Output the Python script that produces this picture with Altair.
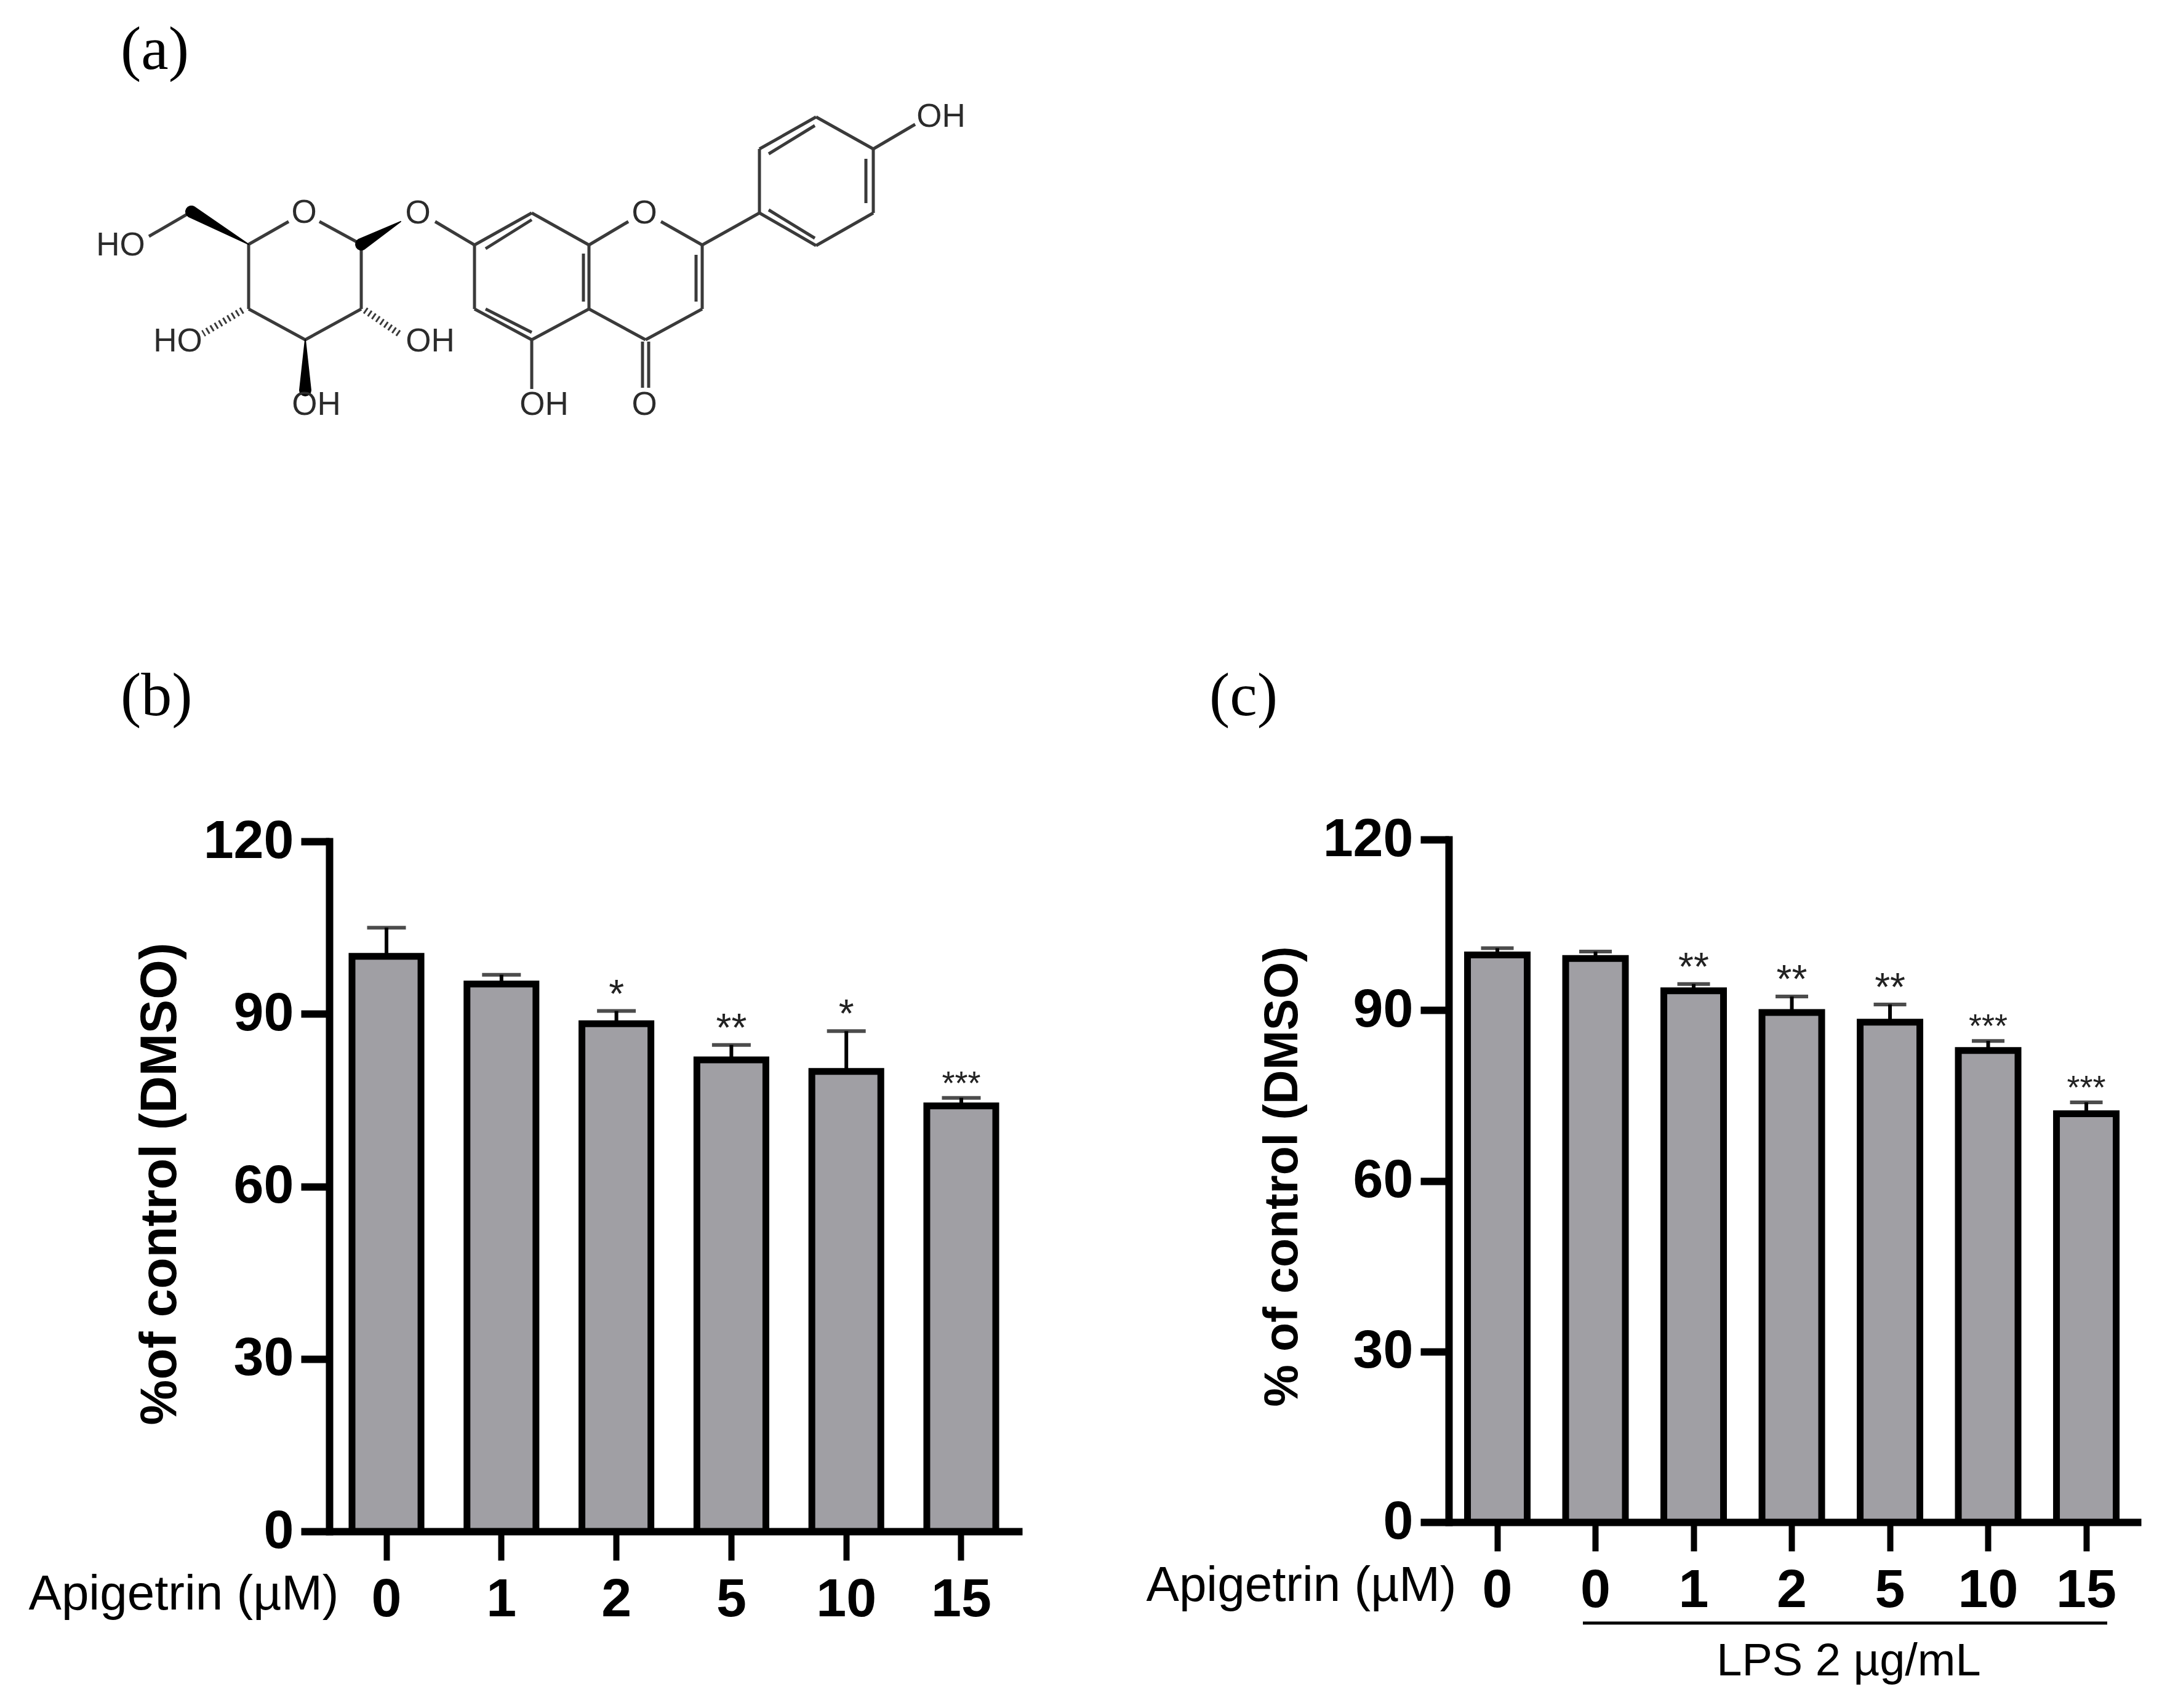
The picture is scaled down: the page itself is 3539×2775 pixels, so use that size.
import altair as alt
import pandas as pd

# ---------- data ----------
cats_b = ["0", "1", "2", "5", "10", "15"]
vals_b = [100, 95.2, 88.3, 82, 80, 74]
upper_b = [105, 96.8, 90.5, 84.6, 87, 75.4]
stars_b = ["", "", "*", "**", "*", "***"]

cats_c = ["0", "0 LPS", "1", "2", "5", "10", "15"]
vals_c = [99.7, 99.1, 93.4, 89.6, 87.9, 82.9, 71.8]
upper_c = [100.9, 100.3, 94.6, 92.4, 91, 84.6, 73.8]
stars_c = ["", "", "**", "**", "**", "***", "***"]

y_ticks = [0, 30, 60, 90, 120]

# molecule: atom positions, bonds, wedges and labels of the apigetrin drawing
atoms = {
    "C5": (405, 395), "C1": (588, 395), "C2": (588, 500), "C3": (497, 550), "C4": (405, 500),
    "C7": (772, 396), "C8": (865, 344), "C8a": (958, 396), "C2p": (1142, 396), "C3p": (1142, 500),
    "C4p": (1050, 550), "C4a": (958, 500), "C5p": (865, 550), "C6p": (772, 500),
    "A1": (1235, 344), "A2": (1235, 240), "A3": (1327, 188), "A4": (1420, 240), "A5": (1420, 344), "A6": (1327, 397),
    "CH2": (312, 342),
    "t1": (470, 358), "t2": (520, 358), "t3": (243, 382), "t4": (708, 358), "t5": (1022, 358), "t6": (1075, 358),
    "t7": (865, 630), "t8": (1488, 200),
    "i1": (790, 402), "i2": (865, 355), "i3": (949, 410), "i4": (949, 488), "i5": (790, 500), "i6": (865, 538),
    "i7": (1132, 412), "i8": (1132, 488), "i9": (1250, 248), "i10": (1325, 202), "i11": (1408, 256), "i12": (1408, 328),
    "i13": (1250, 339), "i14": (1325, 385),
    "o1": (1045, 553), "o2": (1045, 628), "o3": (1055, 553), "o4": (1055, 628),
    "w1": (652, 358), "w2": (497, 632),
    "h1": (395, 502), "h2": (331, 540), "h3": (594, 502), "h4": (652, 542),
}
bonds = [
    ("C5", "t1"), ("t2", "C1"), ("C1", "C2"), ("C2", "C3"), ("C3", "C4"), ("C4", "C5"), ("t3", "CH2"),
    ("t4", "C7"), ("C7", "C8"), ("C8", "C8a"), ("C8a", "t5"), ("t6", "C2p"), ("C2p", "C3p"), ("C3p", "C4p"),
    ("C4p", "C4a"), ("C4a", "C8a"), ("C4a", "C5p"), ("C5p", "C6p"), ("C6p", "C7"), ("C5p", "t7"),
    ("C2p", "A1"), ("A1", "A2"), ("A2", "A3"), ("A3", "A4"), ("A4", "A5"), ("A5", "A6"), ("A6", "A1"), ("A4", "t8"),
    ("i1", "i2"), ("i3", "i4"), ("i5", "i6"), ("i7", "i8"), ("i9", "i10"), ("i11", "i12"), ("i13", "i14"),
    ("o1", "o2"), ("o3", "o4"),
]
wedges = [("C5", "CH2"), ("w1", "C1"), ("C3", "w2")]
hashes = [("h1", "h2"), ("h3", "h4")]
atom_labels = [
    ("O", 495, 344), ("O", 680, 345), ("O", 1048, 345), ("O", 1048, 656),
    ("HO", 197, 397), ("HO", 290, 553), ("OH", 700, 553), ("OH", 515, 656),
    ("OH", 885, 656), ("OH", 1530, 188),
]

# ---------- style ----------
SANS = "Liberation Sans"
SERIF = "Liberation Serif"
BAR = "#a09fa4"
TICK_FONT = 88
ORIGIN_X_B, ORIGIN_Y = 536, 1362
ORIGIN_X_C = 2355
STAR_FONT = {1: 64, 2: 64, 3: 54}


def panel_letter(text, x, y):
    return alt.Chart(pd.DataFrame({"t": [text]})).mark_text(
        font=SERIF, fontSize=100, align="left", baseline="alphabetic", color="black"
    ).encode(text="t:N", x=alt.value(x), y=alt.value(y))


def bar_panel(cats, vals, upper, stars, width, height, y_range, x_scale, cap_len,
              ytitle, ytitle_x, ytitle_y, ytitle_size, xtitle_x, xtitle_y, xtitle_size, tick_w):
    df = pd.DataFrame({"cat": cats, "value": vals, "upper": upper, "star": stars})
    x = alt.X("cat:N", sort=cats, scale=x_scale, axis=alt.Axis(
        title="Apigetrin (µM)", titleFont=SANS, titleFontWeight="normal", titleFontSize=xtitle_size,
        titleAlign="right", titleBaseline="alphabetic", titleX=xtitle_x, titleY=xtitle_y, titleColor="black",
        labelExpr="split(datum.label, ' ')[0]", labelAngle=0, labelFont=SANS, labelFontWeight="bold",
        labelFontSize=TICK_FONT, labelColor="black", labelPadding=20,
        domainColor="black", domainWidth=12, tickColor="black", tickWidth=tick_w, tickSize=47, grid=False))
    y = alt.Y("value:Q", scale=alt.Scale(domain=[0, 120], range=y_range), axis=alt.Axis(
        values=y_ticks, title=ytitle, titleFont=SANS, titleFontWeight="bold", titleFontSize=ytitle_size,
        titleX=ytitle_x, titleY=ytitle_y, titleBaseline="middle", titleColor="black",
        labelFont=SANS, labelFontWeight="bold", labelFontSize=TICK_FONT, labelColor="black", labelPadding=12,
        domainColor="black", domainWidth=12, domainCap="square", tickColor="black", tickWidth=12,
        tickSize=46, grid=False))
    base = alt.Chart(df)
    stem = base.mark_rule(color="black", strokeWidth=6).encode(x=x, y=y, y2="upper:Q")
    cap = base.mark_tick(color="black", thickness=6, size=cap_len, orient="horizontal").encode(
        x=x, y=alt.Y("upper:Q"))
    bars = base.mark_bar(fill=BAR, stroke="black", strokeWidth=11).encode(x=x, y=y)
    layers = [stem, cap, bars]
    for n, size in STAR_FONT.items():
        layers.append(
            base.transform_calculate(n="length(datum.star)").transform_filter(f"datum.n == {n}")
            .mark_text(font=SANS, fontSize=size, baseline="alphabetic", color="#222222", dy=-6)
            .encode(x=x, y=alt.Y("upper:Q"), text="star:N")
        )
    return layers, width, height


scale_b = alt.Scale(paddingInner=0.4, paddingOuter=0.214, align=0.4625)
layers_b, wb, hb = bar_panel(
    cats_b, vals_b, upper_b, stars_b, 1126, 1124, [1124, 3], scale_b, 63,
    "%of control (DMSO)", 261 - ORIGIN_X_B, 1921 - ORIGIN_Y, 83,
    551 - ORIGIN_X_B, 126, 80, 10)
layers_b.append(panel_letter("(b)", 197 - ORIGIN_X_B, 1160 - ORIGIN_Y))
chart_b = alt.layer(*layers_b).properties(width=wb, height=hb)

scale_c = alt.Scale(paddingInner=0.392, paddingOuter=0.2226, align=0.43)
layers_c, wc, hc = bar_panel(
    cats_c, vals_c, upper_c, stars_c, 1125, 1109, [1109, 0], scale_c, 53,
    "% of control (DMSO)", 2085 - ORIGIN_X_C, 1909 - ORIGIN_Y, 77,
    2367 - ORIGIN_X_C, 127, 80, 10)
layers_c.append(panel_letter("(c)", 1966 - ORIGIN_X_C, 1160 - ORIGIN_Y))
lps_line = alt.Chart(pd.DataFrame({"k": [0]})).mark_rule(color="black", strokeWidth=5).encode(
    x=alt.value(2573 - ORIGIN_X_C), x2=alt.value(3425 - ORIGIN_X_C), y=alt.value(2635 - ORIGIN_Y))
lps_text = alt.Chart(pd.DataFrame({"t": ["LPS 2 µg/mL"]})).mark_text(
    font=SANS, fontSize=74, baseline="alphabetic", color="black"
).encode(text="t:N", x=alt.value(3005 - ORIGIN_X_C), y=alt.value(2720 - ORIGIN_Y))
layers_c += [lps_line, lps_text]
chart_c = alt.layer(*layers_c).properties(width=wc, height=hc)

# molecule panel
A_W, A_H = 1124, 750
A_TOP = 8
sx = alt.Scale(domain=[ORIGIN_X_B, ORIGIN_X_B + A_W], range=[0, A_W], nice=False, zero=False)
sy = alt.Scale(domain=[A_TOP, A_TOP + A_H], range=[0, A_H], nice=False, zero=False)
X = alt.X("x:Q", scale=sx, axis=None)
Y = alt.Y("y:Q", scale=sy, axis=None)


def seg_df(pairs):
    return pd.DataFrame([
        {"x": atoms[a][0], "y": atoms[a][1], "x2": atoms[b][0], "y2": atoms[b][1]} for a, b in pairs
    ])


bond_layer = alt.Chart(seg_df(bonds)).mark_rule(color="#3a3a3a", strokeWidth=5).encode(x=X, y=Y, x2="x2:Q", y2="y2:Q")
hash_layer = alt.Chart(seg_df(hashes)).mark_rule(color="#3a3a3a", strokeWidth=11, strokeDash=[3, 5]).encode(
    x=X, y=Y, x2="x2:Q", y2="y2:Q")
wedge_rows = []
for i, (a, b) in enumerate(wedges):
    wedge_rows.append({"id": i, "step": 0, "x": atoms[a][0], "y": atoms[a][1], "end": "narrow"})
    wedge_rows.append({"id": i, "step": 1, "x": atoms[b][0], "y": atoms[b][1], "end": "wide"})
wedge_layer = alt.Chart(pd.DataFrame(wedge_rows)).mark_trail(color="black").encode(
    x=X, y=Y, detail="id:N", order="step:Q",
    size=alt.Size("end:N", scale=alt.Scale(domain=["narrow", "wide"], range=[2, 20]), legend=None))
label_layer = alt.Chart(pd.DataFrame(atom_labels, columns=["t", "x", "y"])).mark_text(
    font=SANS, fontSize=53, color="#2b2b2b", baseline="middle").encode(x=X, y=Y, text="t:N")
letter_a = panel_letter("(a)", 197 - ORIGIN_X_B, 110 - A_TOP)
chart_a = alt.layer(bond_layer, hash_layer, wedge_layer, label_layer, letter_a).properties(width=A_W, height=A_H)

row = alt.hconcat(chart_b, chart_c, spacing=ORIGIN_X_C - ORIGIN_X_B - 1126, bounds="flush")
chart = alt.vconcat(
    chart_a, row, spacing=ORIGIN_Y - A_TOP - A_H, bounds="flush"
).properties(
    padding={"left": 38, "top": 2, "right": 10, "bottom": 10}, background="white"
).configure_view(stroke=None)

chart.save("out.html", embed_options={"renderer": "svg", "actions": False})
